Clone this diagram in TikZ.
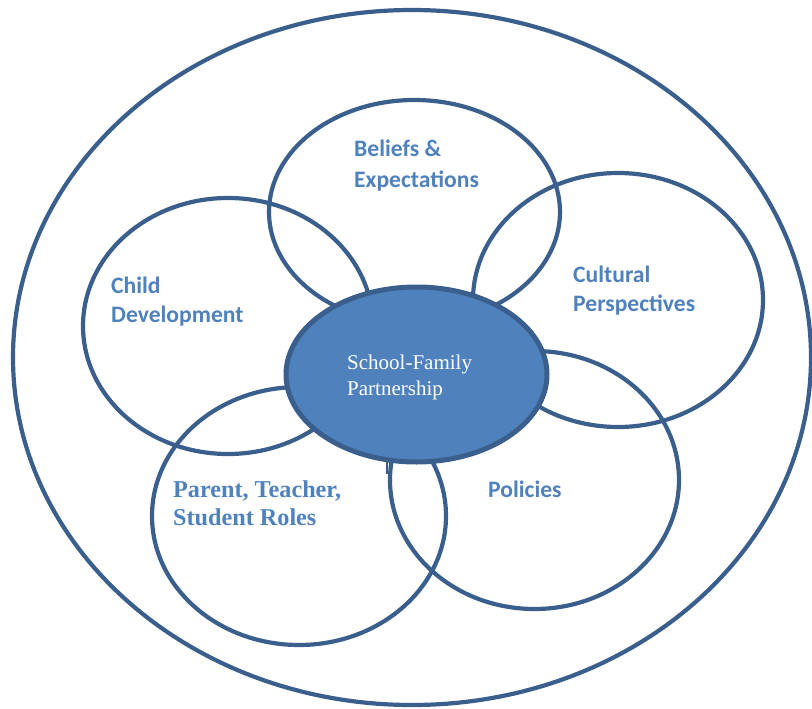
\documentclass[tikz,border=0pt]{standalone}
\usepackage{fontspec}
\setmainfont{Liberation Serif}
\newfontfamily\calib{Carlito}
\usetikzlibrary{shapes.geometric}
\definecolor{edgeblue}{RGB}{58,95,140}
\definecolor{fillblue}{RGB}{79,129,189}
\definecolor{textblue}{RGB}{79,129,189}
\begin{document}
\begin{tikzpicture}[x=1pt,y=-1pt,
  ring/.style={ellipse, draw=edgeblue, line width=4.2pt, inner sep=0pt, outer sep=0pt},
  hub/.style={ellipse, draw=edgeblue, fill=fillblue, line width=5pt, inner sep=0pt, outer sep=0pt},
  lab/.style={anchor=base west, inner sep=0pt, text=textblue, font=\calib\bfseries\fontsize{23.6}{28}\selectfont},
  slab/.style={anchor=base west, inner sep=0pt, text=textblue, font=\bfseries\fontsize{24.2}{28}\selectfont},
  hlab/.style={anchor=base west, inner sep=0pt, text=white, font=\fontsize{21}{26}\selectfont}]
\useasboundingbox (0,0) rectangle (812,709);
\node[ring, minimum width=798pt, minimum height=695pt] (outer) at (412,357.5) {};
\node[ring, minimum width=291pt, minimum height=224pt] (beliefs) at (414.5,212) {};
\node[ring, minimum width=290pt, minimum height=254pt] (cultural) at (618,300) {};
\node[ring, minimum width=290pt, minimum height=256pt] (child) at (228,326) {};
\node[ring, minimum width=294pt, minimum height=258pt] (parent) at (299,516) {};
\node[ring, minimum width=289pt, minimum height=258pt] (policies) at (534.5,480) {};
\node[hub, minimum width=261pt, minimum height=175pt] (hub) at (416.5,374.5) {};
\coordinate (stubA) at (387,460);
\coordinate (stubB) at (387,474);
\draw[edgeblue, line width=2.4pt] (stubA) -- (stubB);
\node[lab] (b1) at (354,157) {Beliefs \&};
\node[lab] (b2) at (354,187) {Expectations};
\node[lab] (c1) at (111,293) {Child};
\node[lab] (c2) at (111,322) {Development};
\node[lab] (u1) at (573,282) {Cultural};
\node[lab] (u2) at (573,311) {Perspectives};
\node[slab] (p1) at (173,497) {Parent, Teacher,};
\node[slab] (p2) at (173,525) {Student Roles};
\node[lab] (o1) at (488,497) {Policies};
\node[hlab] (h1) at (347,369) {School-Family};
\node[hlab] (h2) at (347,395) {Partnership};
\end{tikzpicture}
\end{document}
